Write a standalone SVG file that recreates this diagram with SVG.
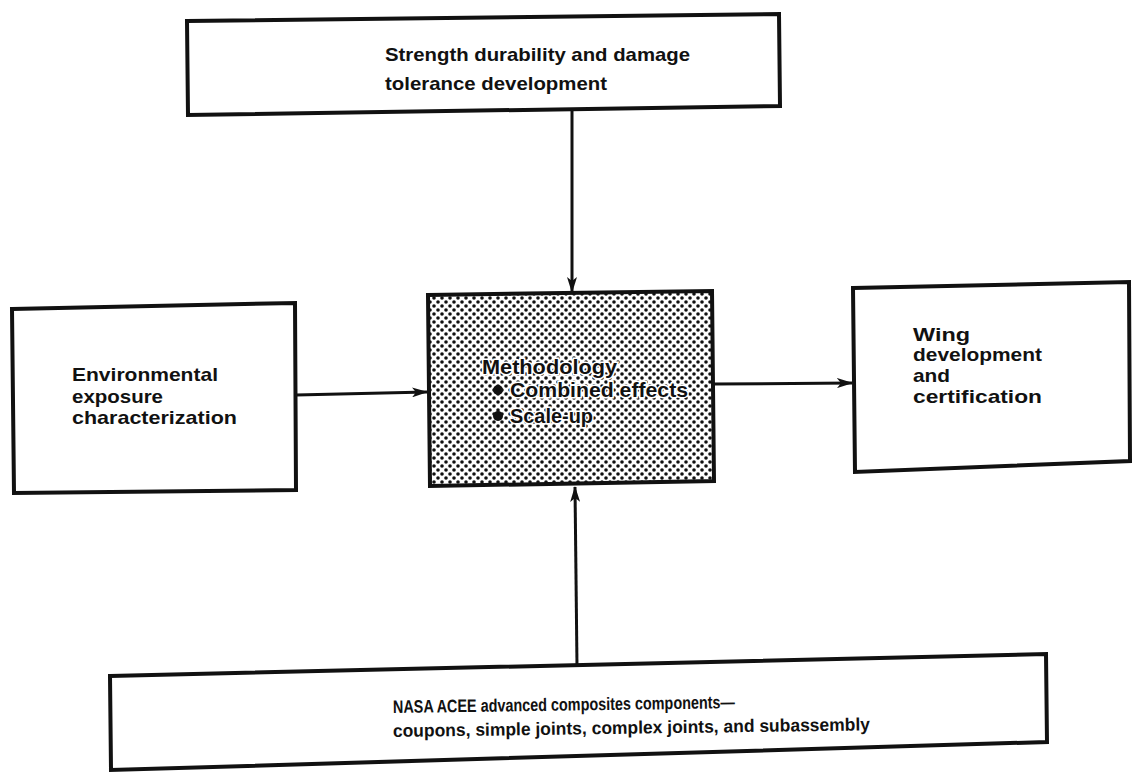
<svg xmlns="http://www.w3.org/2000/svg" width="1133" height="773" viewBox="0 0 1133 773">
<style>
.box{fill:#fff;stroke:#111;stroke-width:4;stroke-linejoin:miter}
.t{font-family:"Liberation Sans",Arial,sans-serif;font-weight:bold;fill:#111}
.c{stroke:#111;stroke-width:3;fill:none}
.halo{stroke:#fff;stroke-width:3;paint-order:stroke}
</style>
<defs>
<pattern id="dots" width="8" height="8" patternUnits="userSpaceOnUse">
<rect width="8" height="8" fill="#fff"/>
<circle cx="2" cy="2" r="1.8" fill="#111"/>
<circle cx="6" cy="6" r="1.8" fill="#111"/>
</pattern>
<marker id="ah" viewBox="0 0 16 10" refX="15" refY="5" markerWidth="16" markerHeight="10" markerUnits="userSpaceOnUse" orient="auto">
<path d="M0,0 L16,5 L0,10 L4,5 Z" fill="#111"/>
</marker>
</defs>
<rect width="1133" height="773" fill="#fff"/>
<g id="connectors">
<line class="c" x1="572" y1="110" x2="572" y2="292" marker-end="url(#ah)"/>
<line class="c" x1="577" y1="666" x2="575" y2="487" marker-end="url(#ah)"/>
<line class="c" x1="296" y1="395" x2="427" y2="392" marker-end="url(#ah)"/>
<line class="c" x1="713" y1="384" x2="852" y2="383" marker-end="url(#ah)"/>
</g>
<g id="top">
<polygon class="box" points="187,21 779,14 780,106 188,115"/>
<text class="t" x="385" y="61" font-size="19" textLength="305" lengthAdjust="spacingAndGlyphs">Strength durability and damage</text>
<text class="t" x="385" y="90" font-size="19" textLength="222" lengthAdjust="spacingAndGlyphs">tolerance development</text>
</g>
<g id="left">
<polygon class="box" points="12,309 295,303 296,490 14,493"/>
<text class="t" x="72" y="381" font-size="19" textLength="146" lengthAdjust="spacingAndGlyphs">Environmental</text>
<text class="t" x="72" y="403" font-size="19" textLength="91" lengthAdjust="spacingAndGlyphs">exposure</text>
<text class="t" x="72" y="424" font-size="19" textLength="165" lengthAdjust="spacingAndGlyphs">characterization</text>
</g>
<g id="center">
<polygon class="box" points="428,295 712,291 714,481 430,486" style="fill:url(#dots)"/>
<text class="t halo" x="482" y="374" font-size="21" textLength="135" lengthAdjust="spacingAndGlyphs">Methodology</text>
<circle cx="498" cy="390" r="5" fill="#111"/>
<text class="t halo" x="510" y="397" font-size="21" textLength="178" lengthAdjust="spacingAndGlyphs">Combined effects</text>
<circle cx="498" cy="416" r="5" fill="#111"/>
<text class="t halo" x="510" y="423" font-size="21" textLength="83" lengthAdjust="spacingAndGlyphs">Scale-up</text>
</g>
<g id="right">
<polygon class="box" points="853,288 1129,282 1130,461 855,472"/>
<text class="t" x="913" y="341" font-size="19" textLength="57" lengthAdjust="spacingAndGlyphs">Wing</text>
<text class="t" x="913" y="361" font-size="19" textLength="129" lengthAdjust="spacingAndGlyphs">development</text>
<text class="t" x="913" y="382" font-size="19" textLength="37" lengthAdjust="spacingAndGlyphs">and</text>
<text class="t" x="913" y="403" font-size="19" textLength="129" lengthAdjust="spacingAndGlyphs">certification</text>
</g>
<g id="bottom">
<polygon class="box" points="110,676 1046,654 1047,742 111,770"/>
<text class="t" x="393" y="713" font-size="18" textLength="342" lengthAdjust="spacingAndGlyphs" transform="rotate(-0.8 393 713)">NASA ACEE advanced composites components—</text>
<text class="t" x="393" y="737" font-size="18" textLength="477" lengthAdjust="spacingAndGlyphs" transform="rotate(-0.8 393 737)">coupons, simple joints, complex joints, and subassembly</text>
</g>
</svg>
